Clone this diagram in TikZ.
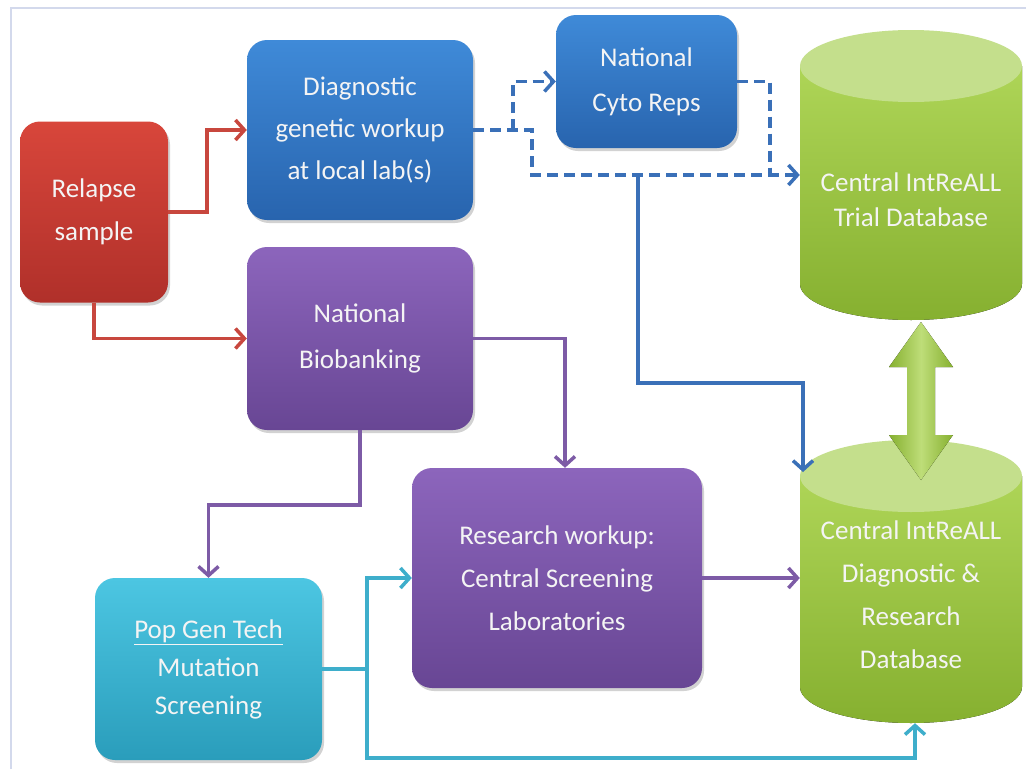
\documentclass[tikz,border=0pt]{standalone}
\usepackage{fontspec}
\setmainfont{Carlito}
\usetikzlibrary{arrows.meta,shadows,calc}
\definecolor{redT}{HTML}{D8463B}\definecolor{redB}{HTML}{B0302A}
\definecolor{bluT}{HTML}{3F8AD8}\definecolor{bluB}{HTML}{2864AE}
\definecolor{purT}{HTML}{8C65BC}\definecolor{purB}{HTML}{684694}
\definecolor{cyaT}{HTML}{4CC6E2}\definecolor{cyaB}{HTML}{2A9DBB}
\definecolor{grnT}{HTML}{AED557}\definecolor{grnB}{HTML}{86B030}
\definecolor{grnTop}{HTML}{C4DF8C}
\definecolor{lnRed}{HTML}{C8473E}\definecolor{lnBlue}{HTML}{3A70B8}
\definecolor{lnPur}{HTML}{7D5BA6}\definecolor{lnCya}{HTML}{3EAECB}
\definecolor{frameC}{HTML}{D3D9EC}\definecolor{txt}{HTML}{F4F4F4}
\tikzset{
  box/.style={rounded corners=20pt, inner sep=0pt, text=txt, align=center,
    font=\fontsize{27}{43}\selectfont,
    drop shadow={shadow xshift=2pt, shadow yshift=-3pt, opacity=0.35}},
  conn/.style={line width=3.5pt, -{Straight Barb[length=9pt,width=20pt]}},
  plain/.style={line width=3.5pt},
  dashln/.style={dash pattern=on 11pt off 6pt},
  dbtext/.style={text=txt, align=center, inner sep=0pt}
}
\begin{document}
\begin{tikzpicture}[x=1pt,y=-1pt]
\useasboundingbox (0,0) rectangle (1026,769);
\fill[white] (0,0) rectangle (1026,769);
\draw[frameC, line width=2pt] (11,769) -- (11,8) -- (1026,8);

% cylinders
\fill[top color=grnT, bottom color=grnB] (800,66) -- (800,284) arc[start angle=180,end angle=0,x radius=111,y radius=36] -- (1022,66) -- cycle;
\fill[grnTop] (911,66) ellipse[x radius=111, y radius=36];
\fill[top color=grnT, bottom color=grnB] (800,476) -- (800,687) arc[start angle=180,end angle=0,x radius=111,y radius=36] -- (1022,476) -- cycle;
\fill[grnTop] (911,476) ellipse[x radius=111, y radius=36];

\node[minimum width=222pt, minimum height=290pt, inner sep=0pt] (trial) at (911,175) {};
\node[dbtext, font=\fontsize{27}{35}\selectfont] (trialtxt) at (911,200) {Central IntReALL\\Trial Database};
\node[minimum width=222pt, minimum height=283pt, inner sep=0pt] (resdb) at (911,581.5) {};
\node[dbtext, font=\fontsize{27}{43}\selectfont] (resdbtxt) at (911,595) {Central IntReALL\\Diagnostic \&\\Research\\Database};

% double arrow
\fill[left color=grnB, right color=grnB, middle color=grnT!80!white]
  (921,322) -- (953,367) -- (935,367) -- (935,435) -- (953,435) -- (921,480)
  -- (889,435) -- (907,435) -- (907,367) -- (889,367) -- cycle;

% boxes
\node[box, top color=redT, bottom color=redB, minimum width=148pt, minimum height=181pt] (relapse) at (94,212) {Relapse\\sample};
\node[box, top color=bluT, bottom color=bluB, minimum width=226pt, minimum height=180pt, font=\fontsize{27}{42}\selectfont] (diag) at (360,130) {Diagnostic\\genetic workup\\at local lab(s)};
\node[box, top color=bluT, bottom color=bluB, minimum width=181pt, minimum height=133pt, font=\fontsize{27}{45}\selectfont] (cyto) at (646.5,81.5) {National\\Cyto Reps};
\node[box, top color=purT, bottom color=purB, minimum width=226pt, minimum height=183pt, font=\fontsize{27}{46}\selectfont] (bio) at (360,338.5) {National\\Biobanking};
\node[box, top color=purT, bottom color=purB, minimum width=290pt, minimum height=220pt] (research) at (557,578) {Research workup:\\Central Screening\\Laboratories};
\node[box, top color=cyaT, bottom color=cyaB, minimum width=227pt, minimum height=182pt, font=\fontsize{27}{38}\selectfont] (popgen) at (208.5,669) {\underline{Pop Gen Tech}\\Mutation\\Screening};

% connector junctions
\coordinate (b1) at (513,130);
\coordinate (j1) at (770,175);
\coordinate (j2) at (638,175);
\coordinate (dbin) at (803,472);
\coordinate (c1) at (367,669);

% red
\draw[conn, lnRed] (relapse.east) -- ++(39,0) |- (diag.west);
\draw[conn, lnRed] (relapse.south) |- (bio.west);
% blue dashed
\draw[conn, dashln, lnBlue] (diag.east) -- ++(59,0) |- (trial.west);
\draw[conn, dashln, lnBlue] (b1) |- (cyto.west);
\draw[plain, dashln, lnBlue] (cyto.east) -| (j1);
% blue solid
\draw[conn, lnBlue] (j2) |- (720,383) -| (dbin);
% purple
\draw[conn, lnPur] (bio.east) -| ([xshift=8pt]research.north);
\draw[conn, lnPur] (bio.south) |- (280,505) -| (popgen.north);
\draw[conn, lnPur] (research.east) -- (research.east -| resdb.west);
% cyan
\draw[conn, lnCya] (popgen.east) -- (c1) |- (research.west);
\draw[conn, lnCya] (c1) |- (915,758) -- ([xshift=4pt]resdb.south);
\end{tikzpicture}
\end{document}
